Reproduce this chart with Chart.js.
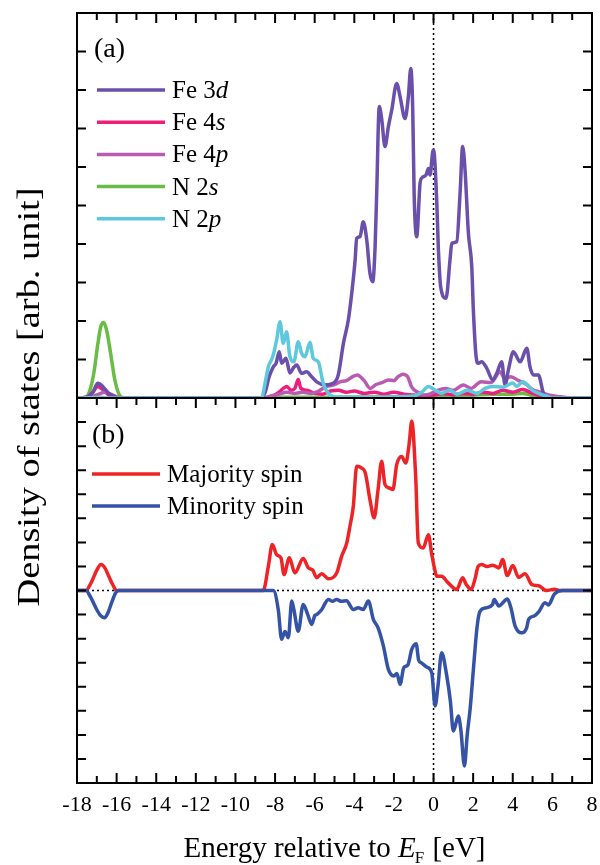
<!DOCTYPE html>
<html>
<head>
<meta charset="utf-8">
<script src="https://cdn.jsdelivr.net/npm/chart.js@4"></script>
<style>
  body { margin: 0; background: #fff; }
  canvas { display: block; }
</style>
</head>
<body>
<canvas id="dosChart" width="600" height="865"></canvas>
<script>
// energy [eV], DOS [arb. unit] pairs
var fe3d = [[-18,0],[-17.5,0.02],[-17.2,0.15],[-16.95,0.38],[-16.7,0.3],[-16.4,0.12],[-16.1,0.03],[-15.8,0],[-8.7,0],[-8.5,0.15],[-8.3,0.55],[-8.09,0.81],[-7.95,0.9],[-7.79,1.2],[-7.67,0.9],[-7.45,1.03],[-7.25,0.65],[-7.05,0.8],[-6.91,0.86],[-6.66,0.64],[-6.41,0.68],[-6.15,0.55],[-5.9,0.42],[-5.48,0.34],[-5.06,0.38],[-4.81,0.6],[-4.55,1.42],[-4.3,2.03],[-4.13,2.72],[-3.96,3.58],[-3.88,4.15],[-3.71,4.19],[-3.55,4.58],[-3.37,4.1],[-3.21,3.24],[-3.07,3.02],[-2.95,3.93],[-2.87,5.32],[-2.74,7.57],[-2.62,7.26],[-2.45,6.53],[-2.28,7.05],[-2.11,7.48],[-1.86,8.17],[-1.69,7.83],[-1.44,7.26],[-1.27,7.83],[-1.15,8.56],[-1.05,7.48],[-0.98,5.32],[-0.85,4.19],[-0.68,5.58],[-0.6,5.71],[-0.38,5.79],[-0.26,5.96],[-0.18,5.79],[-0.04,6.4],[0.0,6.44],[0.16,5.14],[0.24,3.93],[0.36,2.89],[0.63,2.59],[0.83,3.58],[0.92,4.02],[1.17,4.06],[1.34,5.32],[1.47,6.53],[1.59,5.92],[1.76,4.28],[1.93,3.41],[2.01,2.29],[2.15,1.07],[2.26,0.9],[2.43,0.94],[2.69,0.77],[2.99,0.47],[3.19,0.64],[3.44,0.94],[3.61,0.34],[3.78,0.73],[4.03,1.2],[4.37,0.94],[4.71,1.29],[4.87,0.81],[5.04,0.6],[5.29,0.6],[5.55,0.12],[5.75,0],[8,0]];
var fe4s = [[-18,0],[-17.5,0.02],[-17.2,0.15],[-16.95,0.3],[-16.7,0.22],[-16.4,0.08],[-16.1,0.02],[-15.8,0],[-8.6,0],[-8.3,0.03],[-8.0,0.08],[-7.8,0.15],[-7.59,0.25],[-7.4,0.3],[-7.2,0.2],[-7.0,0.25],[-6.83,0.48],[-6.7,0.25],[-6.4,0.2],[-6.0,0.12],[-5.6,0.1],[-5.2,0.18],[-4.8,0.2],[-4.4,0.15],[-4.0,0.18],[-3.5,0.12],[-3.0,0.15],[-2.5,0.1],[-2.0,0.15],[-1.5,0.1],[-1.0,0.08],[-0.5,0.05],[0,0.08],[0.5,0.12],[1.0,0.08],[1.5,0.12],[2.0,0.1],[2.5,0.15],[3.0,0.12],[3.5,0.2],[4.0,0.15],[4.5,0.22],[5.0,0.12],[5.5,0.05],[6.0,0.02],[6.5,0],[8,0]];
var fe4p = [[-18,0],[-17.3,0.03],[-16.9,0.1],[-16.6,0.15],[-16.3,0.1],[-16.0,0.03],[-15.7,0],[-8.6,0],[-8.2,0.05],[-7.8,0.1],[-7.4,0.15],[-7.0,0.12],[-6.6,0.15],[-6.2,0.12],[-5.8,0.18],[-5.4,0.3],[-5.0,0.35],[-4.72,0.42],[-4.4,0.45],[-4.1,0.55],[-3.85,0.6],[-3.5,0.45],[-3.2,0.25],[-2.9,0.35],[-2.6,0.4],[-2.28,0.47],[-2.0,0.45],[-1.8,0.55],[-1.55,0.62],[-1.3,0.55],[-1.1,0.28],[-0.8,0.15],[-0.5,0.08],[-0.2,0.1],[0.2,0.2],[0.6,0.25],[1.0,0.2],[1.5,0.34],[1.9,0.25],[2.4,0.42],[2.9,0.4],[3.36,0.68],[3.6,0.5],[3.9,0.55],[4.3,0.45],[4.7,0.35],[5.0,0.22],[5.4,0.15],[5.8,0.08],[6.4,0.03],[7.0,0],[8,0]];
var n2s = [[-18,0],[-17.55,0.02],[-17.35,0.2],[-17.15,0.65],[-16.95,1.4],[-16.8,1.85],[-16.66,1.96],[-16.5,1.75],[-16.3,1.15],[-16.1,0.5],[-15.9,0.12],[-15.7,0.01],[-15.5,0],[-8.5,0],[-8,0.02],[-5,0.02],[0,0.03],[1,0.05],[2,0.07],[3,0.1],[4,0.1],[4.5,0.12],[5,0.06],[5.5,0.02],[6,0],[8,0]];
var n2p = [[-18,0],[-17.2,0.01],[-16.8,0.02],[-16.4,0],[-8.68,0],[-8.5,0.4],[-8.34,0.81],[-8.12,1.07],[-7.92,1.51],[-7.75,1.98],[-7.59,1.42],[-7.42,1.72],[-7.25,1.07],[-7.05,0.94],[-6.83,1.46],[-6.66,1.16],[-6.49,1.07],[-6.24,1.44],[-6.07,1.03],[-5.82,0.94],[-5.57,0.38],[-5.31,0.12],[-5.0,0.03],[-3,0.02],[-1,0.05],[-0.6,0.15],[-0.26,0.3],[0.1,0.2],[0.4,0.12],[0.8,0.2],[1.2,0.1],[1.7,0.2],[2.2,0.12],[2.6,0.25],[3.0,0.3],[3.5,0.28],[4.0,0.39],[4.2,0.3],[4.5,0.42],[4.8,0.3],[5.0,0.2],[5.4,0.1],[5.7,0.05],[6.0,0],[8,0]];

var majority = [[-18,0],[-17.55,0],[-17.3,0.3],[-17.0,0.85],[-16.79,1.08],[-16.6,0.95],[-16.4,0.6],[-16.2,0.25],[-16.0,0],[-8.6,0],[-8.34,1.0],[-8.14,1.91],[-7.92,1.49],[-7.7,1.35],[-7.55,0.66],[-7.28,1.36],[-7.0,0.73],[-6.58,1.33],[-6.32,0.94],[-6.1,0.85],[-5.9,0.53],[-5.65,0.7],[-5.31,0.49],[-4.89,0.73],[-4.64,1.42],[-4.38,1.98],[-4.22,2.67],[-4.05,3.5],[-3.88,5.16],[-3.63,5.09],[-3.45,4.9],[-3.21,3.78],[-3.0,3.02],[-2.8,4.2],[-2.62,5.37],[-2.45,4.4],[-2.23,4.26],[-2.05,4.2],[-1.86,5.23],[-1.61,5.57],[-1.4,5.3],[-1.23,6.1],[-1.1,7.03],[-0.9,4.7],[-0.77,1.98],[-0.52,1.77],[-0.26,2.32],[-0.09,1.5],[0.08,0.8],[0.16,0.59],[0.41,0.59],[0.7,0.35],[1.17,0.04],[1.47,0.53],[1.65,0.25],[1.9,0.04],[2.1,0.5],[2.25,1.0],[2.43,1.08],[2.7,1.0],[3.0,1.05],[3.3,0.94],[3.49,1.29],[3.72,0.62],[4.0,1.04],[4.3,0.54],[4.62,0.7],[4.97,0.24],[5.3,0.2],[5.7,0],[6.1,0.05],[6.4,0],[8,0]];
var minority = [[-18,0],[-17.55,0],[-17.3,-0.3],[-17.0,-0.8],[-16.8,-1.05],[-16.62,-1.13],[-16.45,-0.95],[-16.25,-0.5],[-16.05,-0.1],[-15.9,0],[-8.09,0],[-7.84,-0.79],[-7.67,-2.03],[-7.5,-1.7],[-7.33,-1.96],[-7.16,-0.44],[-7.05,-0.8],[-6.83,-1.69],[-6.58,-0.58],[-6.35,-1.0],[-6.15,-1.41],[-6.0,-1.05],[-5.9,-1.0],[-5.65,-0.8],[-5.31,-0.37],[-5.1,-0.45],[-4.9,-0.37],[-4.65,-0.45],[-4.4,-0.43],[-4.05,-0.79],[-3.8,-0.72],[-3.55,-0.79],[-3.29,-0.44],[-3.04,-1.2],[-2.8,-1.55],[-2.53,-2.31],[-2.28,-3.28],[-2.0,-3.55],[-1.85,-3.45],[-1.69,-3.9],[-1.5,-3.2],[-1.3,-3.1],[-1.1,-2.45],[-0.88,-2.21],[-0.75,-2.9],[-0.63,-3.0],[-0.33,-3.19],[-0.09,-3.42],[0.08,-4.8],[0.22,-4.0],[0.41,-2.59],[0.67,-3.56],[0.85,-4.6],[1.0,-5.84],[1.25,-5.22],[1.38,-5.8],[1.56,-7.29],[1.7,-6.0],[1.85,-4.9],[2.0,-3.4],[2.2,-1.5],[2.35,-0.86],[2.65,-0.72],[2.98,-0.58],[3.06,-0.37],[3.3,-0.64],[3.73,-0.35],[3.9,-0.7],[4.12,-1.48],[4.45,-1.76],[4.7,-1.55],[4.8,-1.2],[5.1,-1.05],[5.3,-0.9],[5.63,-0.51],[5.8,-0.6],[6.1,-0.15],[6.5,0],[8,0]];

var orbitalLabels = ['Fe 3d', 'Fe 4s', 'Fe 4p', 'N 2s', 'N 2p'];
var spinLabels = ['Majority spin', 'Minority spin'];
var xTicks = [-18, -16, -14, -12, -10, -8, -6, -4, -2, 0, 2, 4, 6, 8];

var serif = "'Liberation Serif', 'Times New Roman', serif";

function pts(arr) {
    return arr.map(function (p) { return { x: p[0], y: p[1] }; });
}

function line(label, arr, color, axis, order) {
    return {
        label: label,
        data: pts(arr),
        borderColor: color,
        backgroundColor: color,
        borderWidth: 3.5,
        borderJoinStyle: 'round',
        pointRadius: 0,
        cubicInterpolationMode: 'monotone',
        fill: false,
        yAxisID: axis,
        order: order
    };
}

var orbitalColors = ['#6a4fab', '#ee1e7c', '#b95bb1', '#69bd45', '#5ec9dd'];
var spinColors = ['#ee2326', '#3452a6'];

// panel frame, ticks, dotted zero lines, labels and legends
var panelDecor = {
    id: 'panelDecor',
    beforeDatasetsDraw: function (chart) {
        var c = chart.ctx, a = chart.chartArea;
        var x0 = chart.scales.x.getPixelForValue(0);
        var yz = chart.scales.yB.getPixelForValue(0);
        c.save();
        c.strokeStyle = '#000';
        c.lineWidth = 1.5;
        c.setLineDash([2, 3]);
        c.beginPath();
        c.moveTo(x0, a.top);
        c.lineTo(x0, a.bottom);
        c.moveTo(a.left, yz);
        c.lineTo(a.right, yz);
        c.stroke();
        c.restore();
    },
    afterDatasetsDraw: function (chart) {
        var c = chart.ctx, a = chart.chartArea;
        var xs = chart.scales.x, ya = chart.scales.yA, yb = chart.scales.yB;
        var mid = ya.bottom;
        c.save();
        c.strokeStyle = '#000';
        c.lineWidth = 2;
        c.strokeRect(a.left, a.top, a.right - a.left, a.bottom - a.top);
        c.beginPath();
        c.moveTo(a.left, mid);
        c.lineTo(a.right, mid);
        c.stroke();

        c.beginPath();
        for (var e = -17; e < 8; e++) {
            var px = xs.getPixelForValue(e);
            var len = (e % 2 === 0) ? 10 : 7;
            c.moveTo(px, a.top); c.lineTo(px, a.top + len);
            c.moveTo(px, mid); c.lineTo(px, mid + len);
            c.moveTo(px, a.bottom); c.lineTo(px, a.bottom - len);
        }
        for (var v = 1; v < 10; v++) {
            var py = ya.getPixelForValue(v);
            c.moveTo(a.left, py); c.lineTo(a.left + 9, py);
            c.moveTo(a.right, py); c.lineTo(a.right - 9, py);
        }
        for (var w = -7; w < 8; w++) {
            var qy = yb.getPixelForValue(w);
            c.moveTo(a.left, qy); c.lineTo(a.left + 9, qy);
            c.moveTo(a.right, qy); c.lineTo(a.right - 9, qy);
        }
        c.stroke();

        c.fillStyle = '#000';
        c.textBaseline = 'alphabetic';
        c.textAlign = 'left';
        c.font = '28px ' + serif;
        c.fillText('(a)', 94, 57);
        c.fillText('(b)', 92, 443);

        // legend of panel (a)
        orbitalLabels.forEach(function (lab, i) {
            var ly = 90 + i * 32.2;
            c.strokeStyle = orbitalColors[i];
            c.lineWidth = 3.5;
            c.beginPath();
            c.moveTo(97, ly); c.lineTo(165, ly);
            c.stroke();
            var head = lab.slice(0, -1), tail = lab.slice(-1);
            c.font = '25px ' + serif;
            c.fillText(head, 172, ly + 8);
            var hw = c.measureText(head).width;
            c.font = 'italic 25px ' + serif;
            c.fillText(tail, 172 + hw, ly + 8);
        });

        // legend of panel (b)
        c.font = '25px ' + serif;
        spinLabels.forEach(function (lab, i) {
            var ly = 474 + i * 32;
            c.strokeStyle = spinColors[i];
            c.lineWidth = 3.5;
            c.beginPath();
            c.moveTo(92, ly); c.lineTo(160, ly);
            c.stroke();
            c.fillText(lab, 167, ly + 8);
        });

        // y axis title
        c.save();
        c.translate(31, 397);
        c.rotate(-Math.PI / 2);
        c.scale(1.2, 1);
        c.font = '32px ' + serif;
        c.textAlign = 'center';
        c.textBaseline = 'middle';
        c.fillText('Density of states [arb. unit]', 0, 0);
        c.restore();

        // x axis title with E_F
        var p1 = 'Energy relative to ', p3 = ' [eV]';
        c.font = '29px ' + serif;
        var w1 = c.measureText(p1).width, w3 = c.measureText(p3).width;
        c.font = 'italic 29px ' + serif;
        var w2 = c.measureText('E').width;
        c.font = '17px ' + serif;
        var wf = c.measureText('F').width;
        var total = w1 + w2 + wf + w3;
        var sx = (a.left + a.right) / 2 - total / 2, by = 857;
        c.textAlign = 'left';
        c.font = '29px ' + serif;
        c.fillText(p1, sx, by);
        c.font = 'italic 29px ' + serif;
        c.fillText('E', sx + w1, by);
        c.font = '17px ' + serif;
        c.fillText('F', sx + w1 + w2 - 1, by + 6);
        c.font = '29px ' + serif;
        c.fillText(p3, sx + w1 + w2 + wf, by);
        c.restore();
    }
};

var ctx = document.getElementById('dosChart').getContext('2d');
var dosChart = new Chart(ctx, {
    type: 'line',
    data: {
        datasets: [
            line(orbitalLabels[0], fe3d, orbitalColors[0], 'yA', 1),
            line(orbitalLabels[1], fe4s, orbitalColors[1], 'yA', 3),
            line(orbitalLabels[2], fe4p, orbitalColors[2], 'yA', 2),
            line(orbitalLabels[3], n2s, orbitalColors[3], 'yA', 4),
            line(orbitalLabels[4], n2p, orbitalColors[4], 'yA', 0),
            line(spinLabels[0], majority, spinColors[0], 'yB', 6),
            line(spinLabels[1], minority, spinColors[1], 'yB', 5)
        ]
    },
    options: {
        responsive: false,
        animation: false,
        layout: { padding: { left: 77, right: 8, top: 13, bottom: 0 } },
        plugins: {
            legend: { display: false },
            tooltip: { enabled: false }
        },
        scales: {
            x: {
                type: 'linear',
                min: -18,
                max: 8,
                grid: { display: false, drawTicks: false },
                border: { display: false },
                afterBuildTicks: function (scale) {
                    scale.ticks = xTicks.map(function (t) { return { value: t }; });
                },
                ticks: {
                    autoSkip: false,
                    maxRotation: 0,
                    padding: 9,
                    color: '#000',
                    font: { family: serif, size: 22 },
                    callback: function (v) { return String(v); }
                },
                afterFit: function (scale) {
                    scale.height = 82;
                    scale.paddingLeft = 0;
                    scale.paddingRight = 0;
                }
            },
            yB: {
                type: 'linear', min: -8, max: 8,
                position: 'left', stack: 'dos', stackWeight: 1,
                display: false
            },
            yA: {
                type: 'linear', min: 0, max: 10,
                position: 'left', stack: 'dos', stackWeight: 1,
                display: false
            }
        }
    },
    plugins: [panelDecor]
});
</script>
</body>
</html>
